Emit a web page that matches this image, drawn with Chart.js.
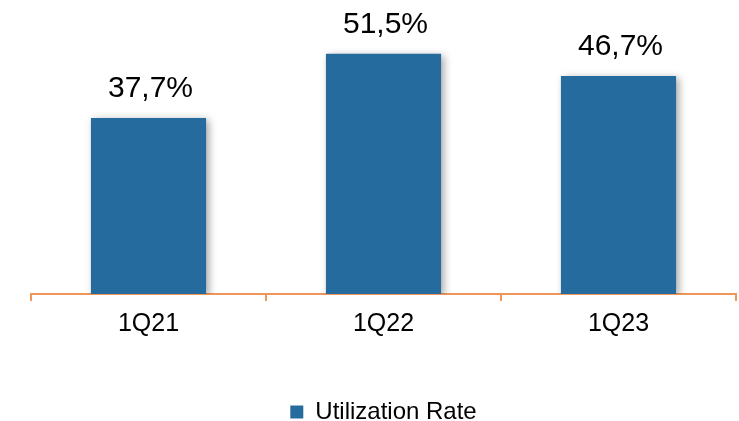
<!DOCTYPE html>
<html>
<head>
<meta charset="utf-8">
<script src="https://cdn.jsdelivr.net/npm/chart.js@4"></script>
<style>
  html, body { margin: 0; padding: 0; background: #fff; }
  #wrap { width: 739px; height: 421px; }
</style>
</head>
<body>
<div id="wrap"><canvas id="chart"></canvas></div>
<script>
const quarters = ["1Q21", "1Q22", "1Q23"];
const utilizationRate = [37.7, 51.5, 46.7];
const seriesLabel = "Utilization Rate";

// labels above the bars, comma decimal
const valueLabels = {
  id: "valueLabels",
  afterDatasetsDraw(chart) {
    const ctx = chart.ctx;
    const meta = chart.getDatasetMeta(0);
    ctx.save();
    ctx.font = "30px 'Liberation Sans', Arial, sans-serif";
    ctx.fillStyle = "#000";
    ctx.textAlign = "center";
    ctx.textBaseline = "bottom";
    meta.data.forEach((bar, i) => {
      const txt = utilizationRate[i].toFixed(1).replace(".", ",") + "%";
      ctx.fillText(txt, bar.x + 2, bar.y - 14);
    });
    ctx.restore();
  }
};

// soft shadow behind the bars
const barShadow = {
  id: "barShadow",
  beforeDatasetsDraw(chart) {
    const ctx = chart.ctx;
    ctx.save();
    ctx.shadowColor = "rgba(0,0,0,0.35)";
    ctx.shadowBlur = 8;
    ctx.shadowOffsetX = 3;
    ctx.shadowOffsetY = 2;
  },
  afterDatasetsDraw(chart) {
    chart.ctx.restore();
  }
};

new Chart(document.getElementById("chart"), {
  type: "bar",
  data: {
    labels: quarters,
    datasets: [
      {
        label: seriesLabel,
        data: utilizationRate,
        backgroundColor: "#266b9e",
        categoryPercentage: 0.98,
        barPercentage: 0.5
      }
    ]
  },
  options: {
    responsive: true,
    maintainAspectRatio: false,
    animation: false,
    layout: { padding: { left: 31, right: 3, top: 14, bottom: -13 } },
    plugins: {
      tooltip: { enabled: false },
      legend: {
        position: "bottom",
        labels: {
          font: { family: "'Liberation Sans', Arial, sans-serif", size: 24 },
          color: "#000",
          boxWidth: 13,
          boxHeight: 13,
          padding: 5
        }
      }
    },
    scales: {
      x: {
        offset: true,
        border: { color: "#f0965a", width: 2 },
        grid: {
          offset: true,
          drawOnChartArea: false,
          color: "#f0965a",
          lineWidth: 2,
          tickLength: 7
        },
        ticks: {
          color: "#000",
          font: { family: "'Liberation Sans', Arial, sans-serif", size: 25 },
          padding: 8
        },
        afterFit(scale) {
          scale.height += 48;
        }
      },
      y: {
        display: false,
        min: 0,
        max: 60
      }
    }
  },
  plugins: [barShadow, valueLabels]
});
</script>
</body>
</html>
